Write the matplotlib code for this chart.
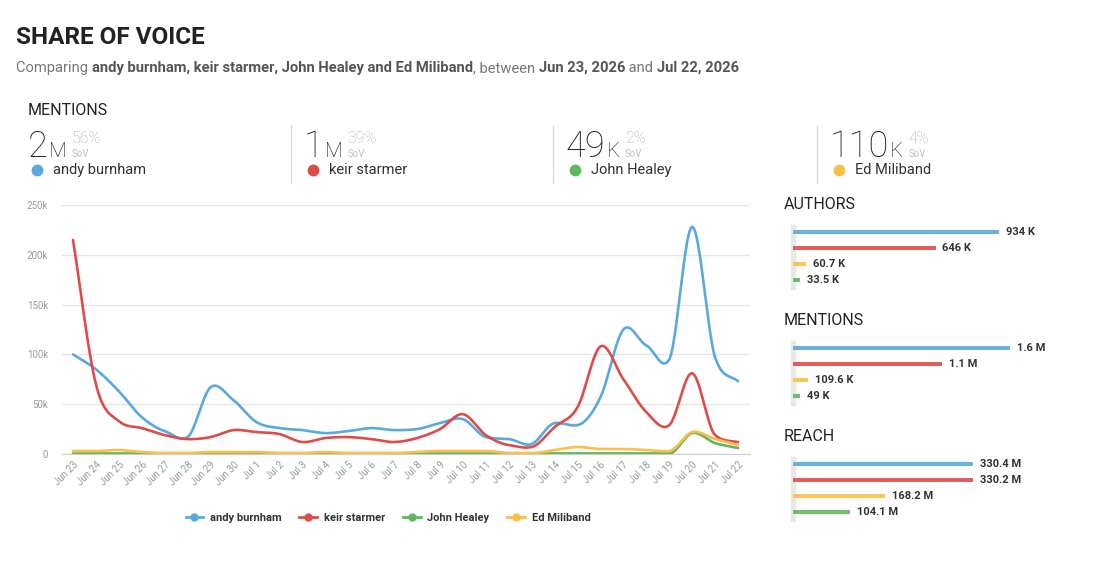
import matplotlib.pyplot as plt
import numpy as np

# ---- data -------------------------------------------------------------
dates = ["Jun 23", "Jun 24", "Jun 25", "Jun 26", "Jun 27", "Jun 28", "Jun 29",
         "Jun 30", "Jul 1", "Jul 2", "Jul 3", "Jul 4", "Jul 5", "Jul 6", "Jul 7",
         "Jul 8", "Jul 9", "Jul 10", "Jul 11", "Jul 12", "Jul 13", "Jul 14",
         "Jul 15", "Jul 16", "Jul 17", "Jul 18", "Jul 19", "Jul 20", "Jul 21",
         "Jul 22"]
names = ["andy burnham", "keir starmer", "John Healey", "Ed Miliband"]
colors = ["#5aa9dd", "#de4c48", "#5db860", "#fbbf47"]

burnham = [100, 85, 63, 37, 23, 17, 67, 54, 32, 26, 24, 21, 23, 26, 24,
           25, 31, 35, 17, 15, 10, 31, 29, 57, 125, 109, 95, 228, 97, 73]
starmer = [215, 70, 33, 26, 19, 15, 17, 24, 22, 20, 12, 16, 17, 15, 12,
           16, 25, 40, 19, 9, 7, 27, 47, 108, 75, 42, 29, 81, 19, 12]
healey = [0.5, 0.5, 0.5, 0.5, 0.5, 0.5, 0.5, 0.5, 0.5, 0.5, 0.5, 0.5, 0.5, 0.5, 0.5,
          0.5, 0.5, 0.5, 0.5, 0.5, 0.5, 0.5, 0.5, 0.5, 0.5, 0.5, 0.5, 21, 11, 6]
miliband = [3, 3, 4, 2, 1, 1, 2, 2, 2, 1, 1, 2, 1, 1, 1,
            2, 3, 3, 3, 1, 1, 4, 7, 5, 5, 4, 3, 22, 15, 9]
series = [burnham, starmer, healey, miliband]   # thousands of mentions

kpi_big = ["2", "1", "49", "110"]
kpi_unit = ["M", "M", "K", "K"]
kpi_sov = ["56%", "39%", "2%", "4%"]

bar_titles = ["AUTHORS", "MENTIONS", "REACH"]
bar_order = [0, 1, 3, 2]   # blue, red, yellow, green
authors = [934, 646, 33.5, 60.7]            # K
mentions = [1.6, 1.1, 0.049, 0.1096]        # M
reach = [330.4, 330.2, 104.1, 168.2]        # M
authors_lbl = ["934 K", "646 K", "33.5 K", "60.7 K"]
mentions_lbl = ["1.6 M", "1.1 M", "49 K", "109.6 K"]
reach_lbl = ["330.4 M", "330.2 M", "104.1 M", "168.2 M"]


def smooth(y, n=24):
    """monotone cubic (Fritsch-Carlson) curve through the daily points"""
    y = np.asarray(y, float)
    x = np.arange(len(y), dtype=float)
    d = np.diff(y)
    m = np.zeros_like(y)
    m[1:-1] = (d[:-1] + d[1:]) / 2
    m[0], m[-1] = d[0], d[-1]
    for i in range(len(d)):
        if d[i] == 0:
            m[i] = m[i + 1] = 0
        else:
            a, b = m[i] / d[i], m[i + 1] / d[i]
            s = a * a + b * b
            if s > 9:
                t = 3 / np.sqrt(s)
                m[i], m[i + 1] = t * a * d[i], t * b * d[i]
    xs, ys = [], []
    for i in range(len(d)):
        t = np.linspace(0, 1, n, endpoint=False)
        h00 = 2 * t**3 - 3 * t**2 + 1
        h10 = t**3 - 2 * t**2 + t
        h01 = -2 * t**3 + 3 * t**2
        h11 = t**3 - t**2
        xs.append(x[i] + t)
        ys.append(h00 * y[i] + h10 * m[i] + h01 * y[i + 1] + h11 * m[i + 1])
    xs.append([x[-1]])
    ys.append([y[-1]])
    return np.concatenate(xs), np.concatenate(ys)


plt.rcParams["font.family"] = ["Roboto", "DejaVu Sans"]
W, H = 1094, 561
fig = plt.figure(figsize=(W / 100, H / 100), dpi=100)
fig.patch.set_facecolor("white")


def fx(px):
    return px / W


def fy(py):
    return 1 - py / H


# ---- header -----------------------------------------------------------
fig.text(fx(16), fy(44), "SHARE OF VOICE", fontsize=17.5, fontweight="bold",
         color="#222222", va="baseline", ha="left")

renderer = fig.canvas.get_renderer()
parts = [("Comparing ", "normal"),
         ("andy burnham, keir starmer, John Healey and Ed Miliband", "bold"),
         (", between ", "normal"), ("Jun 23, 2026", "bold"), (" and ", "normal"),
         ("Jul 22, 2026", "bold")]
xcur = 16
for txt, wt in parts:
    t = fig.text(fx(xcur), fy(72), txt, fontsize=10.6, fontweight=wt,
                 color="#555555" if wt == "bold" else "#777777",
                 va="baseline", ha="left")
    xcur = t.get_window_extent(renderer).x1

# ---- KPI row ----------------------------------------------------------
fig.text(fx(28), fy(115), "MENTIONS", fontsize=11.5, color="#222222",
         va="baseline", ha="left")
col_x = [28, 304, 566, 830]
for i in range(4):
    x0 = col_x[i]
    big = fig.text(fx(x0), fy(157), kpi_big[i], fontsize=26, fontweight="light",
                   color="#222222", va="baseline", ha="left")
    bx = big.get_window_extent(renderer).x1 + 1
    un = fig.text(bx / W, fy(157), kpi_unit[i], fontsize=15, fontweight="light",
                  color="#222222", va="baseline", ha="left")
    ux = un.get_window_extent(renderer).x1 + 5
    fig.text(ux / W, fy(143), kpi_sov[i], fontsize=11.5, fontweight="light",
             color="#b0b0b0", va="baseline", ha="left")
    fig.text(ux / W, fy(157), "SoV", fontsize=7, color="#c0c0c0",
             va="baseline", ha="left")
    fig.add_artist(plt.Line2D([fx(x0 + 9)], [fy(170)], marker="o",
                              markersize=7.5, color=colors[i], lw=0,
                              transform=fig.transFigure))
    fig.text(fx(x0 + 25), fy(174), names[i], fontsize=10.5, color="#333333",
             va="baseline", ha="left")
for sx in [291, 553, 817]:
    fig.add_artist(plt.Line2D([fx(sx), fx(sx)], [fy(125), fy(183)],
                              color="#dddddd", lw=1))

# ---- line chart -------------------------------------------------------
ax = fig.add_axes([fx(62), fy(454), fx(750 - 62), (454 - 205) / H])
for vals, c in zip(series, colors):
    xs, ys = smooth(vals)
    ax.plot(xs, np.array(ys) * 1000, color=c, lw=1.9, solid_capstyle="round",
            clip_on=False)
ax.set_xlim(-0.48, len(dates) - 1 + 0.52)
ax.set_ylim(0, 250000)
ax.set_yticks([0, 50000, 100000, 150000, 200000, 250000])
ax.set_yticklabels(["0", "50k", "100k", "150k", "200k", "250k"])
ax.set_xticks(range(len(dates)))
ax.set_xticklabels(dates, rotation=45, ha="right", va="top",
                   rotation_mode="anchor")
ax.tick_params(axis="both", length=0, labelsize=7, labelcolor="#999999")
ax.tick_params(axis="y", pad=10)
ax.tick_params(axis="x", pad=4)
ax.grid(axis="y", color="#e6e6e6", lw=1)
ax.set_axisbelow(True)
for s in ["top", "right", "left"]:
    ax.spines[s].set_visible(False)
ax.spines["bottom"].set_color("#cccccc")

handles = [plt.Line2D([], [], color=c, lw=2, marker="o", markersize=5)
           for c in colors]
fig.legend(handles, names, loc="center", bbox_to_anchor=(fx(388), fy(518)),
           ncol=4, frameon=False, handlelength=1.6, handletextpad=0.6,
           columnspacing=1.6, prop={"size": 8, "weight": "bold"},
           labelcolor="#333333")

# ---- bar panels -------------------------------------------------------
panel_vals = [authors, mentions, reach]
panel_lbls = [authors_lbl, mentions_lbl, reach_lbl]
panel_top = [204, 320, 436]
panel_xmax = [1301, 2.116, 526.8]
for k in range(3):
    ty = panel_top[k]
    fig.text(fx(784), fy(ty + 5), bar_titles[k], fontsize=11.5, color="#222222",
             va="baseline", ha="left")
    bax = fig.add_axes([fx(793), fy(ty + 84), fx(287), 64 / H])
    bax.set_xlim(0, panel_xmax[k])
    bax.set_ylim(3.5, -0.5)
    bax.axis("off")
    for j, idx in enumerate(bar_order):
        v = panel_vals[k][idx]
        bax.barh(j, v, height=0.2, color=colors[idx], alpha=0.9)
        bax.annotate(panel_lbls[k][idx], (v, j), xytext=(5, 0),
                     textcoords="offset points", va="center", ha="left",
                     fontsize=8, fontweight="bold", color="#333333")
    fig.add_artist(plt.Rectangle((fx(791), fy(ty + 85)), fx(4), 64 / H,
                                 color="#e8e8e8", zorder=0))

fig.savefig("out.png", dpi=100)
